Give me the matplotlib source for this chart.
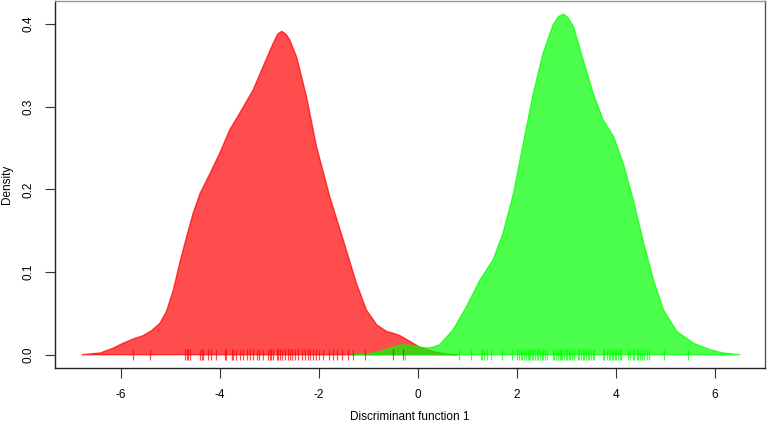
import matplotlib
matplotlib.use("Agg")
import matplotlib.pyplot as plt

plt.rcParams['font.family'] = ['Liberation Sans', 'DejaVu Sans']

# density curve of group 1 (red)
red_x = [-6.79, -6.42, -6.15, -5.95, -5.75, -5.55, -5.38, -5.21, -5.08, -4.94,
         -4.81, -4.67, -4.54, -4.40, -4.20, -4.00, -3.80, -3.60, -3.33, -3.13,
         -2.92, -2.83, -2.75, -2.67, -2.59, -2.45, -2.25, -2.05, -1.78, -1.51,
         -1.24, -1.04, -0.83, -0.63, -0.50, -0.36, -0.16, 0.04, 0.30, 0.55, 0.80]
red_y = [0.000, 0.002, 0.008, 0.014, 0.019, 0.023, 0.029, 0.038, 0.052, 0.078,
         0.111, 0.143, 0.171, 0.195, 0.219, 0.244, 0.272, 0.292, 0.320, 0.348,
         0.377, 0.388, 0.391, 0.388, 0.381, 0.360, 0.312, 0.252, 0.191, 0.139,
         0.086, 0.054, 0.036, 0.028, 0.026, 0.023, 0.016, 0.009, 0.004, 0.001, 0.000]

# density curve of group 2 (green)
green_x = [-1.35, -1.00, -0.75, -0.50, -0.30, -0.10, 0.05, 0.18, 0.30, 0.44,
           0.71, 0.98, 1.25, 1.52, 1.72, 1.93, 2.13, 2.33, 2.53, 2.73,
           2.84, 2.94, 3.04, 3.14, 3.34, 3.54, 3.74, 3.95, 4.15, 4.35,
           4.56, 4.76, 4.96, 5.23, 5.56, 5.90, 6.17, 6.51]
green_y = [0.000, 0.001, 0.004, 0.009, 0.012, 0.011, 0.009, 0.008, 0.009, 0.012,
           0.030, 0.058, 0.090, 0.115, 0.147, 0.195, 0.256, 0.316, 0.365, 0.399,
           0.409, 0.412, 0.407, 0.397, 0.356, 0.316, 0.284, 0.264, 0.231, 0.187,
           0.135, 0.090, 0.054, 0.028, 0.014, 0.006, 0.002, 0.000]

# rug (individual scores)
red_rug = [-5.75, -5.41, -4.71, -4.67, -4.64, -4.61, -4.40, -4.37, -4.35, -4.24,
           -4.17, -4.08, -3.90, -3.87, -3.76, -3.73, -3.68, -3.60, -3.53, -3.46,
           -3.39, -3.33, -3.26, -3.21, -3.13, -3.02, -2.99, -2.96, -2.92, -2.85,
           -2.82, -2.79, -2.75, -2.69, -2.62, -2.59, -2.55, -2.48, -2.42, -2.35,
           -2.28, -2.22, -2.18, -2.12, -2.05, -1.99, -1.91, -1.79, -1.71, -1.64,
           -1.54, -1.41, -1.32, -1.07, -0.50, -0.30]
green_rug = [-0.27, 0.83, 1.08, 1.27, 1.30, 1.34, 1.39, 1.47, 1.70, 1.89,
             2.01, 2.05, 2.08, 2.11, 2.14, 2.18, 2.22, 2.24, 2.26, 2.30,
             2.33, 2.36, 2.40, 2.43, 2.46, 2.50, 2.53, 2.57, 2.60, 2.72,
             2.75, 2.79, 2.82, 2.86, 2.89, 2.92, 2.96, 2.99, 3.02, 3.06,
             3.08, 3.12, 3.16, 3.23, 3.26, 3.29, 3.33, 3.36, 3.39, 3.43,
             3.46, 3.49, 3.53, 3.56, 3.73, 3.76, 3.81, 3.85, 3.88, 3.91,
             3.95, 3.98, 4.01, 4.05, 4.08, 4.11, 4.24, 4.28, 4.34, 4.37,
             4.42, 4.45, 4.48, 4.52, 4.57, 4.62, 4.67, 4.98, 5.45]

x_ticks = [-6, -4, -2, 0, 2, 4, 6]
y_ticks = [0.0, 0.1, 0.2, 0.3, 0.4]

fig = plt.figure(figsize=(7.67, 4.23), dpi=100)
ax = fig.add_axes([0.0717, 0.130, 0.9257, 0.8676])

red = (1, 0, 0, 0.7)
green = (0, 1, 0, 0.7)

ax.fill(red_x, red_y, facecolor=red, edgecolor=red, lw=1)
ax.vlines(red_rug, -0.0065, 0.0065, colors=[red], lw=0.9)
ax.fill(green_x, green_y, facecolor=green, edgecolor=green, lw=1)
ax.vlines(green_rug, -0.0065, 0.0065, colors=[green], lw=0.9)

ax.set_xlim(-7.33, 7.01)
ax.set_ylim(-0.0161, 0.4278)
ax.set_xticks(x_ticks)
ax.set_xticklabels([str(t) for t in x_ticks])
ax.set_yticks(y_ticks)
ax.set_yticklabels(["%.1f" % t for t in y_ticks], rotation=90, va='center')
ax.tick_params(axis='both', direction='out', length=7, width=0.8,
               color='#333333', labelsize=8.5, pad=8)

ax.set_xlabel("Discriminant function 1", fontsize=8.5, va='center')
ax.xaxis.set_label_coords(0.5, -0.1335)
ax.set_ylabel("Density", fontsize=8.5, va='center')
ax.yaxis.set_label_coords(-0.068, 0.5)

for side, col in [('left', '#222222'), ('bottom', '#222222'),
                  ('top', '#999999'), ('right', '#555555')]:
    ax.spines[side].set_color(col)
    ax.spines[side].set_linewidth(1)

fig.savefig("out.png", dpi=100)
